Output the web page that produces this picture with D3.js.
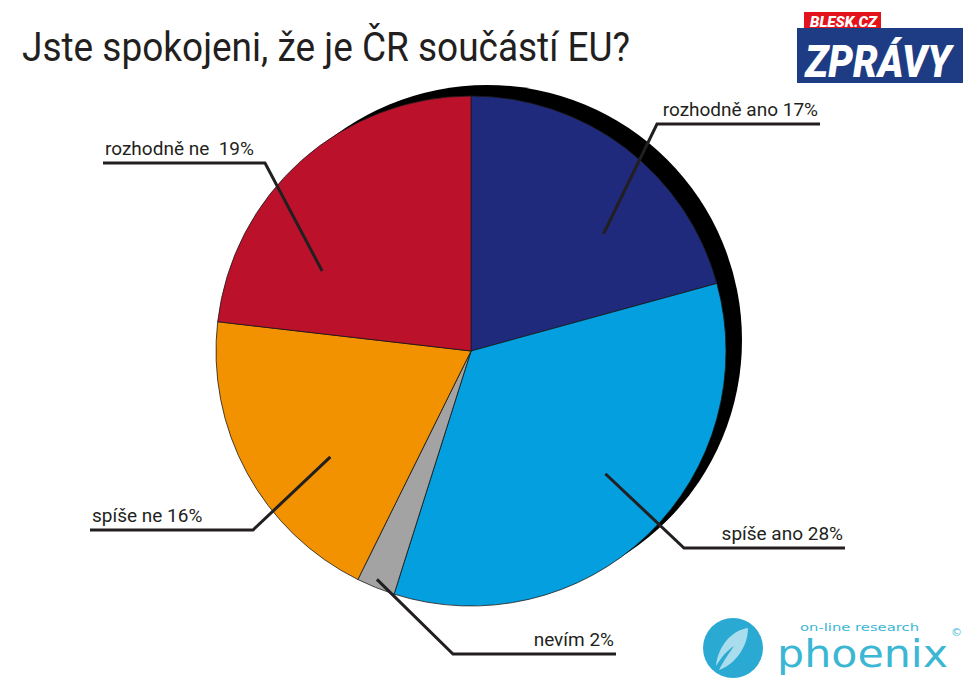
<!DOCTYPE html>
<html>
<head>
<meta charset="utf-8">
<script src="https://cdn.jsdelivr.net/npm/d3@7"></script>
<style>
  body { margin: 0; background: #fff; }
  svg { display: block; }
  .lbl { font-family: Roboto, "Open Sans", sans-serif; font-size: 19px; fill: #231f20; }
</style>
</head>
<body>
<div id="chart"></div>
<script>
// answers, clockwise from 12 o'clock
const categories = ['rozhodně ano', 'spíše ano', 'nevím', 'spíše ne', 'rozhodně ne'];
const values = [17, 28, 2, 16, 19];
const labels = ['rozhodně ano 17%', 'spíše ano 28%', 'nevím 2%', 'spíše ne 16%', 'rozhodně ne  19%'];
const colors = ['#1f2a7d', '#039fdf', '#a3a3a3', '#f29200', '#bc112b'];

// leader line layout: t = position inside slice, r = inner radius, kink, end x
const leaders = [
  {t: 0.65, r: 177, kx: 657, ky: 124, ex: 820, side: 'right'},
  {t: 0.47, r: 182, kx: 684, ky: 548, ex: 845, side: 'right'},
  {t: 0.55, r: 247, kx: 453, ky: 654, ex: 616, side: 'right'},
  {t: 0.38, r: 176, kx: 253, ky: 530, ex: 90, side: 'left'},
  {t: 0.26, r: 169, kx: 265, ky: 163, ex: 103, side: 'left'}
];

const W = 978, H = 679;
const cx = 471, cy = 351, R = 255;

const svg = d3.select('#chart').append('svg')
  .attr('width', W).attr('height', H);

// title
svg.append('text')
  .attr('x', 22).attr('y', 61)
  .attr('textLength', 608).attr('lengthAdjust', 'spacingAndGlyphs')
  .style('font-family', 'Roboto, "Open Sans", sans-serif')
  .style('font-size', '40px')
  .style('fill', '#231f20')
  .text('Jste spokojeni, že je ČR součástí EU?');

// pie
let pie = d3.pie().sort(null).value(d => d);
let arcs = pie(values);
let arc = d3.arc().innerRadius(0).outerRadius(R);

let g = svg.append('g').attr('transform', `translate(${cx},${cy})`);

// black shadow
g.append('circle')
  .attr('cx', 16).attr('cy', -11).attr('r', R)
  .attr('fill', '#000');

g.selectAll('.slice')
  .data(arcs)
  .enter().append('path')
  .attr('class', 'slice')
  .attr('d', arc)
  .attr('fill', (d, i) => colors[i])
  .attr('stroke', '#1a1a1a')
  .attr('stroke-width', 0.8);

// leader lines + labels
arcs.forEach((d, i) => {
  let L = leaders[i];
  let a = d.startAngle + L.t * (d.endAngle - d.startAngle);
  let x0 = cx + L.r * Math.sin(a), y0 = cy - L.r * Math.cos(a);
  svg.append('path')
    .attr('d', `M${x0},${y0}L${L.kx},${L.ky}L${L.ex},${L.ky}`)
    .attr('fill', 'none')
    .attr('stroke', '#231f20')
    .attr('stroke-width', 3);
  svg.append('text')
    .attr('class', 'lbl')
    .attr('x', L.side == 'right' ? L.ex - 2 : L.ex + 2)
    .attr('y', L.ky - 8)
    .attr('text-anchor', L.side == 'right' ? 'end' : 'start')
    .style('white-space', 'pre')
    .text(labels[i]);
});

// Blesk.cz ZPRÁVY logo
let logo = svg.append('g');
logo.append('rect').attr('x', 804).attr('y', 12).attr('width', 77).attr('height', 20).attr('fill', '#e3131b');
logo.append('rect').attr('x', 797).attr('y', 28).attr('width', 166).attr('height', 55).attr('fill', '#1d3c84');
logo.append('text').attr('x', 810).attr('y', 27)
  .attr('textLength', 67).attr('lengthAdjust', 'spacingAndGlyphs')
  .style('font-family', 'Roboto, sans-serif').style('font-weight', 900).style('font-style', 'italic')
  .style('font-size', '15px').style('fill', '#fff')
  .text('BLESK.CZ');
logo.append('text').attr('x', 805).attr('y', 77)
  .attr('textLength', 146).attr('lengthAdjust', 'spacingAndGlyphs')
  .style('font-family', 'Roboto, sans-serif').style('font-weight', 900).style('font-style', 'italic')
  .style('font-size', '44px').style('fill', '#fff')
  .text('ZPRÁVY');

// phoenix logo
let ph = svg.append('g');
ph.append('circle').attr('cx', 733).attr('cy', 648).attr('r', 30).attr('fill', '#2aa9d2');
ph.append('path')
  .attr('d', 'M748,628 C732,630 718,646 716,666 C722,656 728,650 734,646 C730,652 724,660 719,670 C736,664 748,646 748,628 Z')
  .attr('fill', '#bfe6f2').attr('opacity', 0.85);
ph.append('text').attr('x', 800).attr('y', 631)
  .attr('textLength', 119).attr('lengthAdjust', 'spacingAndGlyphs')
  .style('font-family', '"DejaVu Sans", sans-serif').style('font-size', '11px').style('fill', '#3bb7d4')
  .text('on-line research');
ph.append('text').attr('x', 777).attr('y', 667)
  .attr('textLength', 171).attr('lengthAdjust', 'spacingAndGlyphs')
  .style('font-family', '"DejaVu Sans", sans-serif').style('font-size', '37px').style('fill', '#3bb7d4')
  .text('phoenix');
ph.append('text').attr('x', 951).attr('y', 636)
  .style('font-family', '"DejaVu Sans", sans-serif').style('font-size', '11px').style('fill', '#3bb7d4')
  .text('©');
</script>
</body>
</html>
